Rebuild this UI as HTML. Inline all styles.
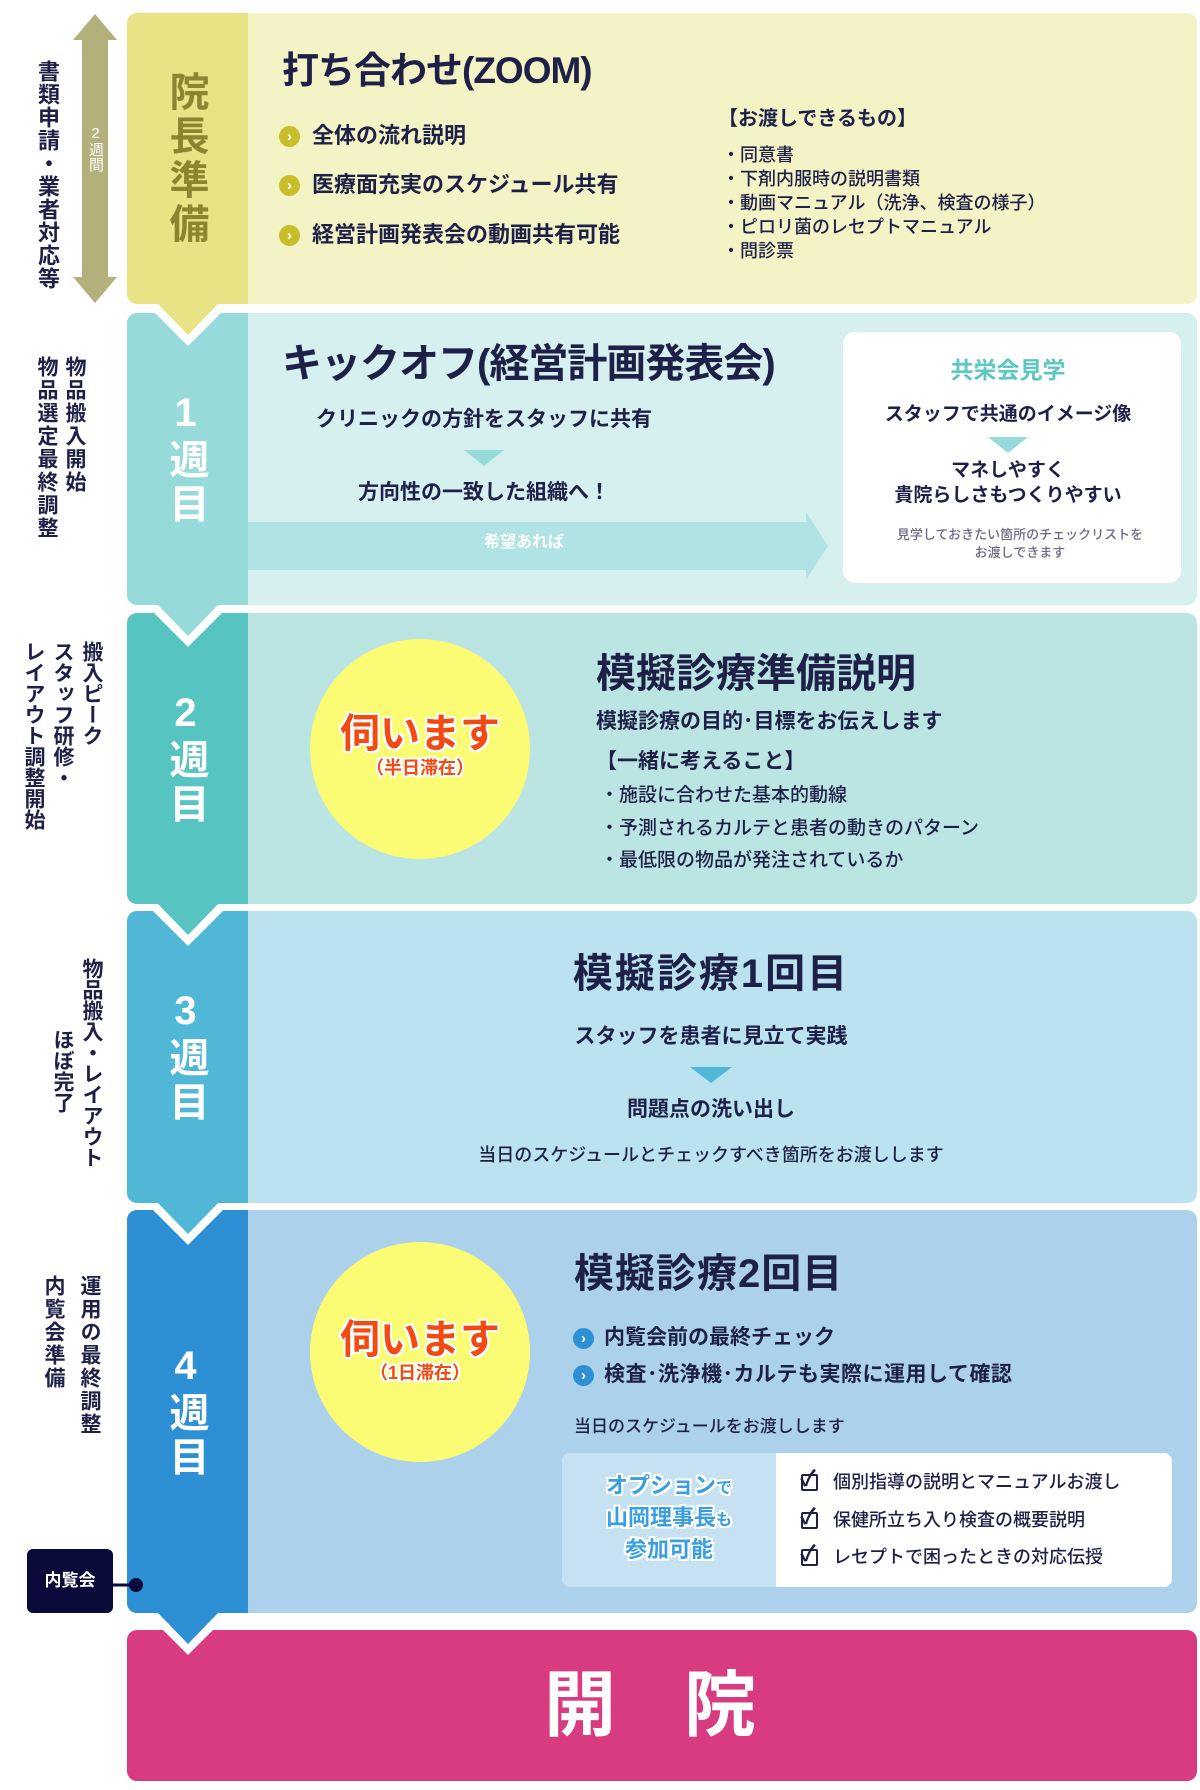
<!DOCTYPE html>
<html><head><meta charset="utf-8"><style>
*{margin:0;padding:0;box-sizing:border-box}
body{width:1200px;height:1790px;background:#fff;position:relative;overflow:hidden;font-family:"Liberation Sans","Noto Sans CJK JP",sans-serif;color:#1e2048;font-weight:700}
.p{position:absolute;left:127px;width:1070px;border-radius:10px;overflow:hidden}
.s{position:absolute;left:0;top:0;bottom:0;width:121px}
.t{position:absolute;white-space:nowrap;line-height:1}
.c{transform:translateX(-50%)}
.v{position:absolute;writing-mode:vertical-rl;text-orientation:upright;line-height:1;white-space:nowrap}
.wk{position:absolute;left:125px;width:121px;writing-mode:vertical-rl;text-orientation:upright;color:#fff;font-size:40px;line-height:1;display:flex;align-items:center;justify-content:center;letter-spacing:4px}
.bul{position:absolute;width:21px;height:21px;border-radius:50%;color:#fff;font-size:15px;line-height:21px;text-align:center;font-weight:900}
.red{color:#f24a12;text-shadow:2px 0 #fff,-2px 0 #fff,0 2px #fff,0 -2px #fff,2px 2px #fff,-2px -2px #fff,2px -2px #fff,-2px 2px #fff}
.blu{color:#3a9fe0;text-shadow:2px 0 #fff,-2px 0 #fff,0 2px #fff,0 -2px #fff,2px 2px #fff,-2px -2px #fff,2px -2px #fff,-2px 2px #fff}
.chk{position:absolute;width:17px;height:17px;border:2px solid #1e2048;border-radius:2px}
</style></head><body>

<div class="p" style="top:13px;height:291px;background:#f3f3c5"><div class="s" style="background:#e8e486"></div></div>
<div class="p" style="top:313px;height:292px;background:#d5f0ef"><div class="s" style="background:#96dada"></div></div>
<div class="p" style="top:613px;height:291px;background:#bbe5e3"><div class="s" style="background:#56c4c1"></div></div>
<div class="p" style="top:911px;height:292px;background:#bae3ef"><div class="s" style="background:#51b7d6"></div></div>
<div class="p" style="top:1210px;height:403px;background:#abd1eb"><div class="s" style="background:#2e90d4"></div></div>
<div class="p" style="top:1630px;height:151px;background:#d93b80"></div>

<svg width="1200" height="1790" style="position:absolute;left:0;top:0">
<polygon points="248,522 806,522 806,512 828,546 806,580 806,570 248,570" fill="#b0e3e3"/>
<polygon points="95,14 117,40 108,40 108,277 117,277 95,303 73,277 82,277 82,40 73,40" fill="#b3b07c"/>
<g>
<polygon points="146,304 230,304 188,346" fill="#fff"/><polygon points="157,303 219,303 188,335" fill="#e8e486"/>
<polygon points="146,605 230,605 188,647" fill="#fff"/><polygon points="157,604 219,604 188,636" fill="#96dada"/>
<polygon points="146,904 230,904 188,946" fill="#fff"/><polygon points="157,903 219,903 188,935" fill="#56c4c1"/>
<polygon points="146,1203 230,1203 188,1245" fill="#fff"/><polygon points="157,1202 219,1202 188,1234" fill="#51b7d6"/>
<polygon points="146,1613 230,1613 188,1655" fill="#fff"/><polygon points="157,1612 219,1612 188,1644" fill="#2e90d4"/>
</g>
<polygon points="464,450 504,450 484,466" fill="#96dada"/>
<polygon points="690,1067 732,1067 711,1083" fill="#51b7d6"/>
<circle cx="420" cy="749" r="110" fill="#fbfb74"/>
<circle cx="420" cy="1352" r="110" fill="#fbfb74"/>
<line x1="113" y1="1585" x2="136" y2="1585" stroke="#0a0a3a" stroke-width="3"/>
<circle cx="136" cy="1585" r="7" fill="#0a0a3a"/>
</svg>

<div class="v" style="left:36px;top:60px;font-size:22px;letter-spacing:1px">書類申請・業者対応等</div>
<div class="v" style="left:88px;top:125px;font-size:15px;color:#fff;font-weight:400">2週間</div>
<div class="v" style="left:64px;top:356px;font-size:21px;letter-spacing:2px">物品搬入開始</div>
<div class="v" style="left:36px;top:356px;font-size:21px;letter-spacing:2px">物品選定最終調整</div>
<div class="v" style="left:81px;top:641px;font-size:21px">搬入ピーク</div>
<div class="v" style="left:52px;top:641px;font-size:21px">スタッフ研修・</div>
<div class="v" style="left:23px;top:641px;font-size:21px">レイアウト調整開始</div>
<div class="v" style="left:81px;top:958px;font-size:21px">物品搬入・レイアウト</div>
<div class="v" style="left:52px;top:1029px;font-size:21px">ほぼ完了</div>
<div class="v" style="left:79px;top:1275px;font-size:21px;letter-spacing:2px">運用の最終調整</div>
<div class="v" style="left:43px;top:1275px;font-size:21px;letter-spacing:2px">内覧会準備</div>
<div style="position:absolute;left:27px;top:1549px;width:86px;height:64px;background:#0a0a3a;border-radius:6px;color:#fff;font-size:17px;line-height:64px;text-align:center">内覧会</div>

<div class="wk" style="top:13px;height:291px;color:#8a8530">院長準備</div>
<div class="wk" style="top:313px;height:292px">1週目</div>
<div class="wk" style="top:613px;height:291px">2週目</div>
<div class="wk" style="top:911px;height:292px">3週目</div>
<div class="wk" style="top:1210px;height:403px">4週目</div>

<!-- P0 -->
<div class="t" style="left:282px;top:52px;font-size:37px;letter-spacing:-1px">打ち合わせ(ZOOM)</div>
<div class="bul" style="left:279px;top:126px;background:#c8be2a">›</div>
<div class="bul" style="left:279px;top:175px;background:#c8be2a">›</div>
<div class="bul" style="left:279px;top:225px;background:#c8be2a">›</div>
<div class="t" style="left:312px;top:125px;font-size:22px">全体の流れ説明</div>
<div class="t" style="left:312px;top:174px;font-size:22px">医療面充実のスケジュール共有</div>
<div class="t" style="left:312px;top:224px;font-size:22px">経営計画発表会の動画共有可能</div>
<div class="t" style="left:718px;top:109px;font-size:20px">【お渡しできるもの】</div>
<div class="t" style="left:722px;top:143px;font-size:18px;font-weight:500;line-height:24px">・同意書<br>・下剤内服時の説明書類<br>・動画マニュアル（洗浄、検査の様子）<br>・ピロリ菌のレセプトマニュアル<br>・問診票</div>

<!-- P1 -->
<div class="t" style="left:282px;top:344px;font-size:40px;letter-spacing:-1px">キックオフ(経営計画発表会)</div>
<div class="t c" style="left:484px;top:409px;font-size:21px">クリニックの方針をスタッフに共有</div>
<div class="t c" style="left:484px;top:482px;font-size:21px">方向性の一致した組織へ！</div>
<div class="t c" style="left:524px;top:535px;font-size:16px;color:#fff">希望あれば</div>
<div style="position:absolute;left:843px;top:332px;width:338px;height:251px;background:#fff;border-radius:12px"></div>
<div class="t c" style="left:1008px;top:359px;font-size:23px;color:#5cc8c0">共栄会見学</div>
<div class="t c" style="left:1008px;top:405px;font-size:19px">スタッフで共通のイメージ像</div>
<svg style="position:absolute;left:988px;top:437px" width="40" height="16"><polygon points="0,0 40,0 20,16" fill="#96dada"/></svg>
<div class="t c" style="left:1008px;top:458px;font-size:19px;line-height:25px;text-align:center">マネしやすく<br>貴院らしさもつくりやすい</div>
<div class="t c" style="left:1020px;top:526px;font-size:13px;color:#6a6a80;font-weight:500;line-height:18px;text-align:center">見学しておきたい箇所のチェックリストを<br>お渡しできます</div>

<!-- P2 -->
<div class="t c red" style="left:420px;top:714px;font-size:40px">伺います</div>
<div class="t c red" style="left:420px;top:759px;font-size:18px">（半日滞在）</div>
<div class="t" style="left:596px;top:654px;font-size:40px">模擬診療準備説明</div>
<div class="t" style="left:596px;top:711px;font-size:21px">模擬診療の目的･目標をお伝えします</div>
<div class="t" style="left:596px;top:751px;font-size:21px">【一緒に考えること】</div>
<div class="t" style="left:600px;top:786px;font-size:19px;font-weight:500">・施設に合わせた基本的動線</div>
<div class="t" style="left:600px;top:819px;font-size:19px;font-weight:500">・予測されるカルテと患者の動きのパターン</div>
<div class="t" style="left:600px;top:851px;font-size:19px;font-weight:500">・最低限の物品が発注されているか</div>

<!-- P3 -->
<div class="t c" style="left:711px;top:954px;font-size:40px;letter-spacing:2px">模擬診療1回目</div>
<div class="t c" style="left:711px;top:1026px;font-size:21px">スタッフを患者に見立て実践</div>
<div class="t c" style="left:711px;top:1099px;font-size:21px">問題点の洗い出し</div>
<div class="t c" style="left:711px;top:1146px;font-size:18px;font-weight:500">当日のスケジュールとチェックすべき箇所をお渡しします</div>

<!-- P4 -->
<div class="t c red" style="left:420px;top:1320px;font-size:40px">伺います</div>
<div class="t c red" style="left:420px;top:1364px;font-size:18px">（1日滞在）</div>
<div class="t" style="left:574px;top:1254px;font-size:40px;letter-spacing:1px">模擬診療2回目</div>
<div class="bul" style="left:573px;top:1328px;background:#2e90d4">›</div>
<div class="bul" style="left:573px;top:1365px;background:#2e90d4">›</div>
<div class="t" style="left:604px;top:1327px;font-size:21px">内覧会前の最終チェック</div>
<div class="t" style="left:604px;top:1364px;font-size:21px;letter-spacing:0.5px">検査･洗浄機･カルテも実際に運用して確認</div>
<div class="t" style="left:574px;top:1418px;font-size:17px;font-weight:500">当日のスケジュールをお渡しします</div>
<div style="position:absolute;left:562px;top:1453px;width:610px;height:134px;background:#fff;border-radius:8px;overflow:hidden"><div style="position:absolute;left:0;top:0;width:214px;height:134px;background:#c6e1f2"></div></div>
<div class="t c blu" style="left:669px;top:1475px;font-size:22px">オプション<span style="font-size:16px">で</span></div>
<div class="t c blu" style="left:669px;top:1507px;font-size:22px">山岡理事長<span style="font-size:16px">も</span></div>
<div class="t c blu" style="left:669px;top:1539px;font-size:22px">参加可能</div>
<div class="chk" style="left:801px;top:1474px"></div>
<div class="chk" style="left:801px;top:1512px"></div>
<div class="chk" style="left:801px;top:1549px"></div>
<div class="t" style="left:800px;top:1468px;font-size:22px">✓</div>
<div class="t" style="left:800px;top:1506px;font-size:22px">✓</div>
<div class="t" style="left:800px;top:1543px;font-size:22px">✓</div>
<div class="t" style="left:833px;top:1473px;font-size:18px;font-weight:500">個別指導の説明とマニュアルお渡し</div>
<div class="t" style="left:833px;top:1511px;font-size:18px;font-weight:500">保健所立ち入り検査の概要説明</div>
<div class="t" style="left:833px;top:1548px;font-size:18px;font-weight:500">レセプトで困ったときの対応伝授</div>

<!-- P5 -->
<div class="t c" style="left:580px;top:1670px;font-size:72px;color:#fff">開</div>
<div class="t c" style="left:720px;top:1670px;font-size:72px;color:#fff">院</div>
</body></html>
